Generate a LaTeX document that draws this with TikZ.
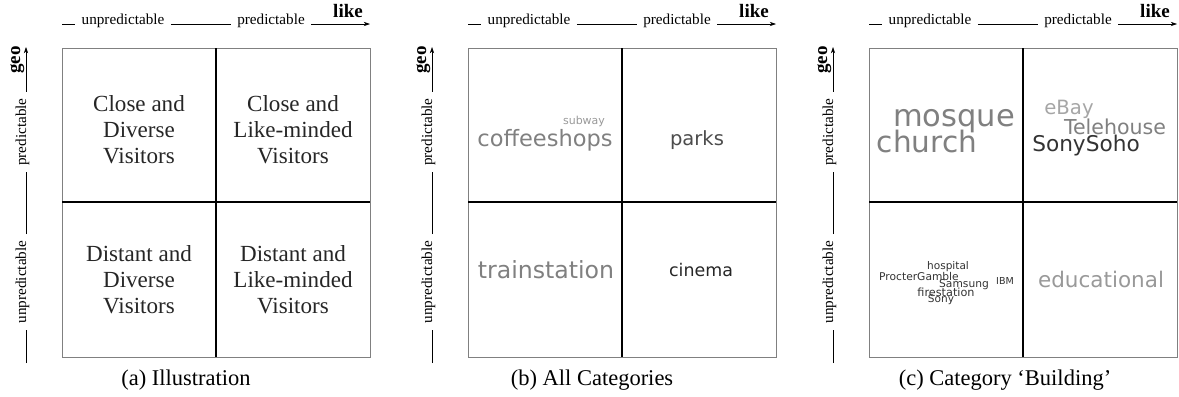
\documentclass[tikz,border=0pt]{standalone}
\usepackage{fontspec}
\usetikzlibrary{arrows.meta}
\setmainfont{Liberation Serif}
\newfontfamily\cloudfont{DejaVu Sans}
\begin{document}
\begin{tikzpicture}[x=0.025cm,y=-0.025cm,
    frame/.style={draw=black!50, line width=0.7pt},
    divider/.style={draw=black, line width=0.8pt},
    axisarrow/.style={-{Stealth[length=4.5pt,width=3pt]}},
    axislbl/.style={font=\fontsize{10.8}{12}\selectfont, anchor=base, inner xsep=4.5pt, inner ysep=0pt},
    axisname/.style={font=\bfseries\fontsize{13.5}{14}\selectfont, anchor=base, inner sep=0pt},
    quad/.style={align=center, text=black!85, font=\fontsize{16.4}{18.4}\selectfont},
    cloud/.style 2 args={inner sep=0pt, text=#2, font=\cloudfont\fontsize{#1}{#1}\selectfont},
    caption/.style={font=\fontsize{16}{18}\selectfont}]
  \useasboundingbox (0,0) rectangle (1179,396);
  % axes and frame, same for the three panels
  \foreach \dx/\p in {0/a,406/b,807/c}{
    \begin{scope}[shift={(\dx,0)}]
      \draw[frame] (62,48) rectangle (370,357);
      \draw[divider] (216,48) -- (216,357) (62,202) -- (370,202);
      % like axis
      \coordinate (xs\p) at (62,24);
      \coordinate (xe\p) at (370,24);
      \node[axislbl] (xu\p) at (123,24) {unpredictable};
      \node[axislbl] (xp\p) at (271,24) {predictable};
      \node[axisname] (like\p) at (348,17) {like};
      \draw (xs\p) -- (xu\p.base west);
      \draw (xu\p.base east) -- (xp\p.base west);
      \draw[axisarrow] (xp\p.base east) -- (xe\p);
      % geo axis
      \coordinate (ys\p) at (26,363);
      \coordinate (ye\p) at (26,47);
      \node[axislbl, rotate=90] (yu\p) at (26,282) {unpredictable};
      \node[axislbl, rotate=90] (yp\p) at (26,132) {predictable};
      \node[axisname, rotate=90] (geo\p) at (20,60) {geo};
      \draw (ys\p) -- (yu\p.base west);
      \draw (yu\p.base east) -- (yp\p.base west);
      \draw[axisarrow] (yp\p.base east) -- (ye\p);
    \end{scope}
  }
  % (a)
  \node[quad] (closediv) at (139,130) {Close and\\Diverse\\Visitors};
  \node[quad] (closelike) at (293,130) {Close and\\Like-minded\\Visitors};
  \node[quad] (fardiv) at (139,280) {Distant and\\Diverse\\Visitors};
  \node[quad] (farlike) at (293,280) {Distant and\\Like-minded\\Visitors};
  % (b)
  \node[cloud={7.8}{black!40}] (subway) at (584,121) {subway};
  \node[cloud={16}{black!50}] (coffeeshops) at (545,140) {coffeeshops};
  \node[cloud={13.9}{black!70}] (parks) at (697,140) {parks};
  \node[cloud={16.8}{black!50}] (trainstation) at (546,270) {trainstation};
  \node[cloud={12.4}{black!85}] (cinema) at (701,270) {cinema};
  % (c)
  \node[cloud={21.7}{black!50}] (mosque) at (954,121) {mosque};
  \node[cloud={21}{black!50}] (church) at (927,141) {church};
  \node[cloud={14}{black!35}] (ebay) at (1069,109) {eBay};
  \node[cloud={14.6}{black!50}] (telehouse) at (1115,127) {Telehouse};
  \node[cloud={15.4}{black!80}] (sonysoho) at (1086,146) {SonySoho};
  \node[cloud={7.5}{black!80}] (hospital) at (948,267) {hospital};
  \node[cloud={7.6}{black!80}] (procter) at (919,277) {ProcterGamble};
  \node[cloud={7.6}{black!80}] (samsung) at (964,285) {Samsung};
  \node[cloud={6.8}{black!80}] (ibm) at (1005,281) {IBM};
  \node[cloud={8}{black!80}] (firestation) at (946,292) {firestation};
  \node[cloud={7.5}{black!80}] (sony) at (941,300) {Sony};
  \node[cloud={15.3}{black!40}] (educational) at (1101,279) {educational};
  % captions
  \node[caption] (capa) at (186,380) {(a)\ Illustration};
  \node[caption] (capb) at (592,380) {(b)\ All Categories};
  \node[caption] (capc) at (1005,380) {(c)\ Category `Building'};
\end{tikzpicture}
\end{document}
